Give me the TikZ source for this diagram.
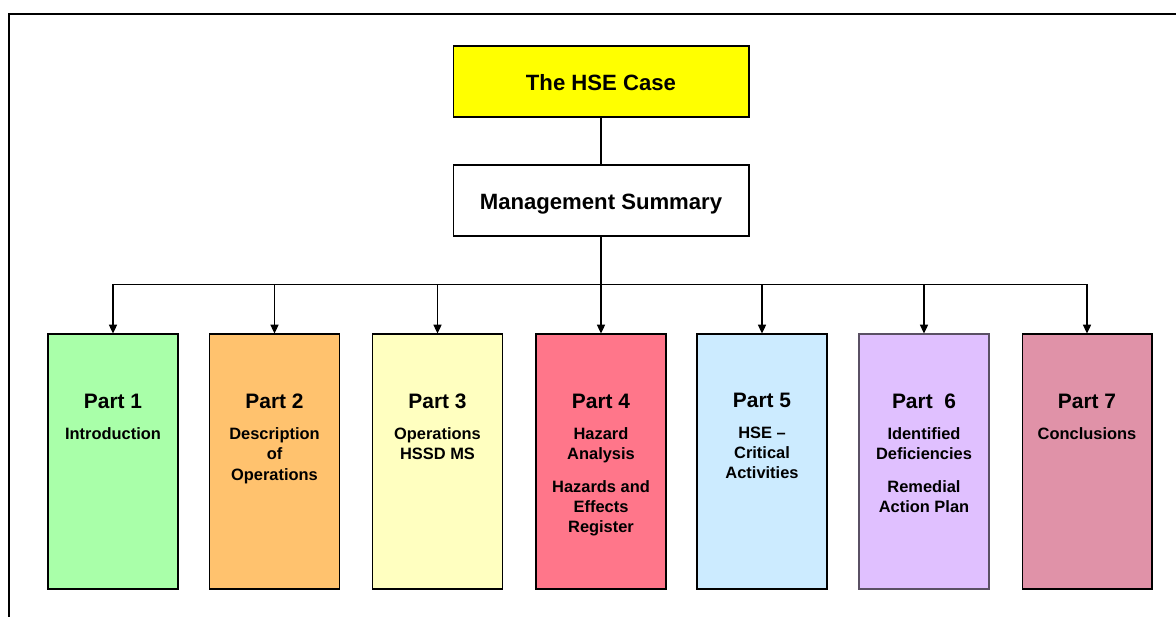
\documentclass[tikz,border=0pt]{standalone}
\usepackage{fontspec}
\setmainfont{Liberation Sans}
\usepackage{tikz}
\usetikzlibrary{arrows.meta,
	calc,
	positioning}

\definecolor{caseyellow}{RGB}{255,255,0}
\definecolor{partgreen}{RGB}{169,255,169}
\definecolor{partorange}{RGB}{255,194,110}
\definecolor{partcream}{RGB}{255,255,192}
\definecolor{partred}{RGB}{255,118,138}
\definecolor{partblue}{RGB}{204,235,255}
\definecolor{partlilac}{RGB}{224,192,255}
\definecolor{partrose}{RGB}{224,146,168}
\definecolor{lilacedge}{RGB}{90,80,100}

\newcommand{\partfont}{\fontsize{11.9}{14}\selectfont}

\begin{document}
\begin{tikzpicture}[x=0.02cm,y=-0.02cm]
        \tikzstyle{topbox}=[draw=black,line width=0.6pt,minimum width=5.92cm,minimum height=1.42cm,inner sep=0pt,text height=10.6pt,text depth=0pt,font=\bfseries\fontsize{12.6}{15}\selectfont]
        \tikzstyle{partbox}=[draw=black,line width=0.6pt,minimum width=2.6cm,minimum height=5.1cm,inner sep=0pt]
        \tikzstyle{parttext}=[anchor=north,align=center,inner sep=0pt,font=\bfseries\fontsize{9.35}{11.6}\selectfont]
        \tikzstyle{link}=[line width=0.75pt]
        \tikzstyle{arrow}=[line width=0.75pt,-{Triangle[length=5pt,width=4.6pt]}]
        \useasboundingbox (0,0) rectangle (1176,617);
        \draw[line width=1.2pt] (8.7,617) -- (8.7,14) -- (1176,14);
        % top of the tree
        \node[topbox,fill=caseyellow] (hse) at (601,81.5) {The HSE Case};
        \node[topbox,fill=white] (summary) at (601,200.5) {Management Summary};
        \coordinate (bus) at (601,284.3);
        % the seven parts
        \node[partbox,fill=partgreen] (p1) at (113,461.5) {};
        \node[partbox,fill=partorange] (p2) at (274.5,461.5) {};
        \node[partbox,fill=partcream] (p3) at (437.5,461.5) {};
        \node[partbox,fill=partred] (p4) at (601,461.5) {};
        \node[partbox,fill=partblue] (p5) at (762,461.5) {};
        \node[partbox,fill=partlilac,draw=lilacedge] (p6) at (924,461.5) {};
        \node[partbox,fill=partrose] (p7) at (1087,461.5) {};
        \node[parttext] (t1) at ([yshift=-1.2cm]p1.north) {{\partfont Part 1}\\[6pt] Introduction};
        \node[parttext] (t2) at ([yshift=-1.2cm]p2.north) {{\partfont Part 2}\\[6pt] Description\\of\\Operations};
        \node[parttext] (t3) at ([yshift=-1.2cm]p3.north) {{\partfont Part 3}\\[6pt] Operations\\HSSD MS};
        \node[parttext] (t4) at ([yshift=-1.2cm]p4.north) {{\partfont Part 4}\\[6pt] Hazard\\Analysis\\[7pt] Hazards and\\Effects\\Register};
        \node[parttext] (t5) at ([yshift=-1.18cm]p5.north) {{\partfont Part 5}\\[6pt] HSE --\\Critical\\Activities};
        \node[parttext] (t6) at ([yshift=-1.2cm]p6.north) {{\partfont Part\ \ 6}\\[6pt] Identified\\Deficiencies\\[7pt] Remedial\\Action Plan};
        \node[parttext] (t7) at ([yshift=-1.2cm]p7.north) {{\partfont Part 7}\\[6pt] Conclusions};
        % connectors
        \draw[link] (hse) -- (summary);
        \draw[link] (summary) -- (bus);
        \draw[link] (p1.north |- bus) -- (p7.north |- bus);
        \draw[arrow] (p1.north |- bus) -- (p1.north);
        \draw[arrow] (p2.north |- bus) -- (p2.north);
        \draw[arrow] (p3.north |- bus) -- (p3.north);
        \draw[arrow] (bus) -- (p4.north);
        \draw[arrow] (p5.north |- bus) -- (p5.north);
        \draw[arrow] (p6.north |- bus) -- (p6.north);
        \draw[arrow] (p7.north |- bus) -- (p7.north);
      \end{tikzpicture}
\end{document}
